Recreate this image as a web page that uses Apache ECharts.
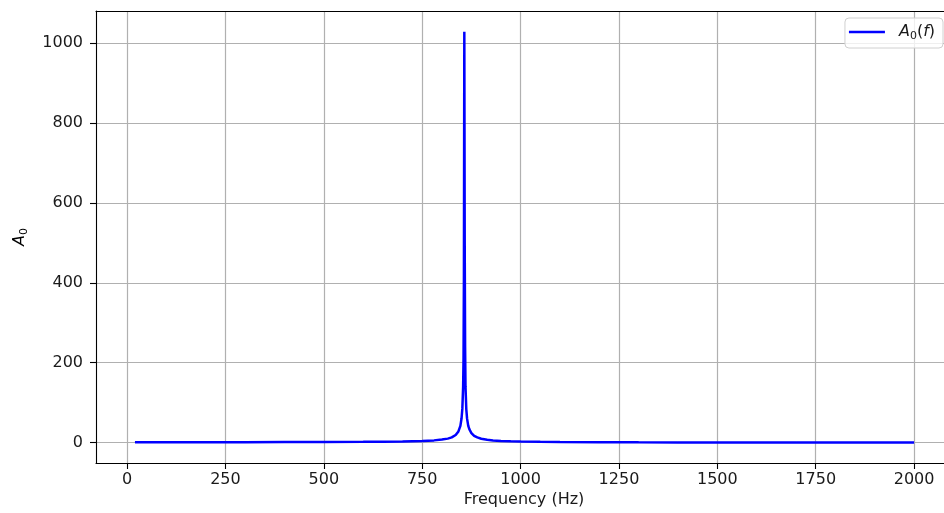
<!DOCTYPE html>
<html>
<head>
<meta charset="utf-8">
<script src="https://cdn.jsdelivr.net/npm/echarts@6/dist/echarts.min.js"></script>
<style>html,body{margin:0;padding:0;background:#fff}#c{width:944px;height:513px}</style>
</head>
<body>
<div id="c"></div>
<script>
// Data
const freqHz = [20, 100, 200, 300, 400, 500, 600, 650, 700, 750, 780, 800, 815, 825, 835, 842, 847, 850, 852, 854, 855, 856, 857, 858, 859, 860, 862, 864, 867, 870, 875, 882, 890, 900, 915, 930, 950, 975, 1000, 1050, 1100, 1200, 1300, 1400, 1500, 1600, 1700, 1800, 1900, 2000];
const amplitude = [1.0, 1.01, 1.06, 1.14, 1.28, 1.52, 1.96, 2.35, 3.0, 4.3, 5.6, 7.8, 10.0, 13.0, 19, 28, 42, 61, 85, 140, 210, 420, 1028, 500, 240, 140, 84, 60, 42, 33, 24, 17, 13, 9.7, 7, 5.4, 4.1, 3.3, 2.8, 2.1, 1.6, 1.05, 0.77, 0.6, 0.49, 0.4, 0.34, 0.29, 0.25, 0.22];
const xTicks = [0, 250, 500, 750, 1000, 1250, 1500, 1750, 2000];
const yTicks = [0, 200, 400, 600, 800, 1000];
const xRange = [-79, 2076];
const yRange = [-51, 1080];
const seriesName = 'A0(f)';

const FONT = 'DejaVu Sans';
const TXT = '#1a1a1a';
const chart = echarts.init(document.getElementById('c'), null, {renderer: 'canvas'});
const mathRich = {
  i: {fontFamily: FONT, fontStyle: 'italic', fontSize: 16, color: TXT},
  n: {fontFamily: FONT, fontSize: 16, color: TXT},
  s: {fontFamily: FONT, fontSize: 11, color: TXT, padding: [9, 0, 0, 0]}
};
const axisLineStyle = {color: '#000', width: 1.1};
chart.setOption({
  animation: false,
  backgroundColor: '#fff',
  grid: {left: 96, right: 0, top: 11, bottom: 50, show: false},
  xAxis: [{
    type: 'value', min: xRange[0], max: xRange[1], position: 'bottom',
    axisLine: {show: true, onZero: false, lineStyle: axisLineStyle},
    axisTick: {show: true, length: 6, lineStyle: axisLineStyle, customValues: xTicks},
    axisLabel: {customValues: xTicks, formatter: v => String(v), fontFamily: FONT, fontSize: 16, color: TXT, margin: 9},
    splitLine: {show: true, lineStyle: {color: '#b0b0b0', width: 1.2}}
  }, {
    type: 'value', min: xRange[0], max: xRange[1], position: 'top',
    axisLine: {show: true, onZero: false, lineStyle: axisLineStyle},
    axisTick: {show: false}, axisLabel: {show: false}, splitLine: {show: false}
  }],
  yAxis: {
    type: 'value', min: yRange[0], max: yRange[1],
    axisLine: {show: true, onZero: false, lineStyle: axisLineStyle},
    axisTick: {show: true, length: 6, lineStyle: axisLineStyle, customValues: yTicks},
    axisLabel: {customValues: yTicks, formatter: v => String(v), fontFamily: FONT, fontSize: 16, color: TXT, margin: 13},
    splitLine: {show: true, lineStyle: {color: '#b0b0b0', width: 1.2}}
  },
  legend: {
    right: 1, top: 18, orient: 'vertical',
    backgroundColor: 'rgba(255,255,255,0.8)', borderColor: '#d0d0d0', borderWidth: 1, borderRadius: 4,
    padding: [6, 8, 6, 4],
    itemWidth: 36, itemHeight: 2.5, icon: 'rect',
    data: [{name: seriesName, icon: 'rect'}],
    formatter: () => '{i|A}{s|0}{n|(}{i|f}{n|)}',
    textStyle: {rich: mathRich, padding: [0, 0, 0, 9]}
  },
  graphic: [
    {type: 'text', x: 524, y: 500, style: {text: 'Frequency (Hz)', font: '16px "DejaVu Sans"', fill: TXT, align: 'center', verticalAlign: 'middle'}},
    {type: 'text', x: 20, y: 237, rotation: Math.PI / 2, style: {text: '{i|A}{s|0}', rich: mathRich, align: 'center', verticalAlign: 'middle'}}
  ],
  series: [{
    name: seriesName, type: 'line', showSymbol: false, symbol: 'none', xAxisIndex: 0,
    data: freqHz.map((f, k) => [f, amplitude[k]]),
    lineStyle: {color: '#0000ff', width: 2.5}, itemStyle: {color: '#0000ff'},
    clip: true
  }]
});
</script>
</body>
</html>
